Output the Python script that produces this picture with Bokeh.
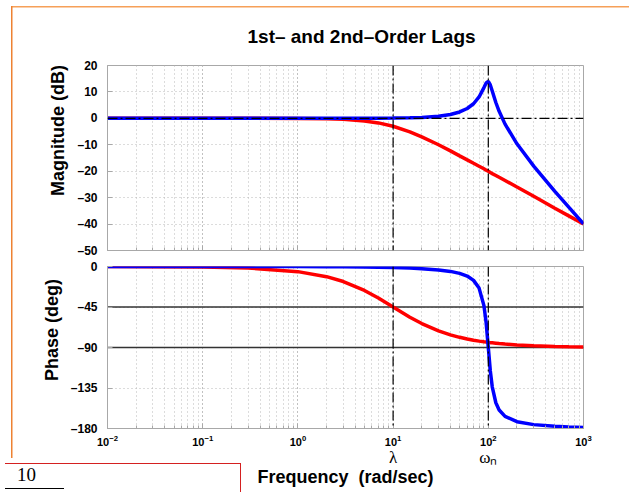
from bokeh.plotting import figure
from bokeh.models import Range1d, FixedTicker, Span, LogAxis, Div
from bokeh.layouts import column
from bokeh.embed import file_html
from bokeh.resources import INLINE

# ---- data (frequency in rad/sec) ----
freq = [0.01, 0.03, 0.1, 0.3, 1, 2, 3, 5, 7, 10, 15, 20, 30, 40, 50, 60, 70, 80,
        90, 95, 100, 105, 110, 120, 130, 150, 200, 300, 500, 700, 1000]
# first-order lag 10/(s+10)
mag_first = [0, 0, 0, 0, -0.04, -0.17, -0.37, -0.97, -1.72, -3.0, -5.1, -7.0, -10.0,
             -12.3, -14.2, -15.7, -17.0, -18.1, -19.1, -19.6, -20.0, -20.5, -20.9,
             -21.6, -22.3, -23.5, -26.0, -29.5, -34.0, -36.9, -40.0]
phase_first = [-0.06, -0.17, -0.57, -1.72, -5.7, -11.3, -16.7, -26.6, -35.0, -45.0,
               -56.3, -63.4, -71.6, -76.0, -78.7, -80.5, -81.9, -82.9, -83.7, -84.0,
               -84.3, -84.6, -84.8, -85.2, -85.6, -86.2, -87.1, -88.1, -88.9, -89.2, -89.4]
# second-order lag (resonant at omega_n)
mag_second = [0, 0, 0, 0, 0, 0, 0, 0.02, 0.04, 0.09, 0.19, 0.35, 0.8, 1.47, 2.42, 3.73,
              5.53, 8.09, 11.64, 13.41, 13.98, 12.63, 10.34, 6.0, 2.65, -2.18, -9.62,
              -18.09, -27.6, -33.6, -39.9]
phase_second = [0, 0, -0.01, -0.03, -0.11, -0.23, -0.34, -0.57, -0.8, -1.16, -1.76,
                -2.39, -3.77, -5.44, -7.6, -10.6, -15.4, -24.0, -43.5, -62.8, -90.0,
                -116.0, -133.7, -151.4, -159.4, -166.5, -172.4, -175.7, -177.6,
                -178.3, -178.8]

corner_freqs = [10, 100]                 # lambda, omega_n
corner_names = ["\u03bb", "\u03c9\u2099"]
mag_ticks = [-50, -40, -30, -20, -10, 0, 10, 20]
mag_tick_labels = ["\u201350", "\u201340", "\u201330", "\u201320", "\u201310", "0", "10", "20"]
phase_ticks = [-180, -135, -90, -45, 0]
phase_tick_labels = ["\u2013180", "\u2013135", "\u201390", "\u201345", "0"]
phase_ref_levels = [-45, -90]
mag_ref_level = 0

SANS = "Liberation Sans"
SERIF = "Liberation Serif"
GRID = "#b8b8b8"
FRAME = "#a8a8a8"
NB = "\u00a0"

xr = Range1d(0.01, 1000)


def style(p, yticks, ylabels):
    p.outline_line_color = FRAME
    p.outline_line_width = 1
    p.xgrid.grid_line_color = GRID
    p.xgrid.grid_line_dash = "1 3"
    p.xgrid.minor_grid_line_color = GRID
    p.xgrid.minor_grid_line_dash = "1 3"
    p.ygrid.grid_line_color = GRID
    p.ygrid.grid_line_dash = "1 3"
    p.yaxis.ticker = FixedTicker(ticks=yticks)
    p.ygrid.ticker = FixedTicker(ticks=yticks)
    p.yaxis.major_label_overrides = dict(zip(yticks, ylabels))
    p.yaxis.major_label_text_font = SANS
    p.yaxis.major_label_text_font_style = "bold"
    p.yaxis.major_label_text_font_size = "12px"
    p.yaxis.major_label_text_color = "black"
    p.yaxis.major_label_standoff = 10
    p.yaxis.axis_label_text_font = SANS
    p.yaxis.axis_label_text_font_style = "bold"
    p.yaxis.axis_label_text_font_size = "18px"
    p.yaxis.axis_label_text_color = "black"
    p.yaxis.axis_label_standoff = 6
    for ax in (p.xaxis, p.yaxis):
        ax.axis_line_color = FRAME
        ax.major_tick_line_color = FRAME
        ax.minor_tick_line_color = FRAME
        ax.major_tick_in = 5
        ax.major_tick_out = 0
        ax.minor_tick_in = 3
        ax.minor_tick_out = 0
    p.yaxis.minor_tick_line_color = None


# ---------------- magnitude ----------------
p1 = figure(width=629, height=258, x_axis_type="log", x_range=xr,
            y_range=Range1d(-50, 20), output_backend="svg", toolbar_location=None,
            min_border_left=107, min_border_right=46, min_border_top=65,
            min_border_bottom=8, border_fill_color=None, background_fill_color="white")
style(p1, mag_ticks, mag_tick_labels)
p1.yaxis.axis_label = NB * 11 + "Magnitude (dB)"
p1.xaxis.major_label_text_font_size = "1px"
p1.xaxis.major_label_text_color = None
p1.xaxis.major_label_standoff = 0
p1.title.text = "1st\u2013 and 2nd\u2013Order Lags"
p1.title.align = "left"
p1.title.offset = 140
p1.title.text_font = SANS
p1.title.text_font_style = "bold"
p1.title.text_font_size = "19px"
p1.title.text_color = "black"
p1.title.standoff = 37

p1.line(freq, mag_first, line_color="#ff0000", line_width=3.5)
p1.line(freq, mag_second, line_color="#0000ff", line_width=3.5)
p1.add_layout(Span(location=mag_ref_level, dimension="width", line_color="black",
                   line_width=1.2, line_dash="10 3 2 3"))
for f in corner_freqs:
    p1.add_layout(Span(location=f, dimension="height", line_color="black",
                       line_width=1.2, line_dash="10 3 2 3"))

# ---------------- phase ----------------
p2 = figure(width=629, height=234, x_axis_type="log", x_range=xr,
            y_range=Range1d(-180, 0), output_backend="svg", toolbar_location=None,
            min_border_left=107, min_border_right=46, min_border_top=8,
            min_border_bottom=64, border_fill_color=None, background_fill_color="white")
style(p2, phase_ticks, phase_tick_labels)
p2.yaxis.axis_label = NB * 7 + "Phase (deg)"
p2.xaxis.major_label_text_font = SANS
p2.xaxis.major_label_text_font_style = "bold"
p2.xaxis.major_label_text_font_size = "11px"
p2.xaxis.major_label_text_color = "black"
p2.xaxis.major_label_standoff = 6

corner_axis = LogAxis(ticker=FixedTicker(ticks=corner_freqs),
                      major_label_overrides=dict(zip(corner_freqs, corner_names)),
                      axis_line_color=None, major_tick_line_color=None,
                      minor_tick_line_color=None, major_label_standoff=-7,
                      major_label_text_font=SERIF, major_label_text_font_size="17px",
                      major_label_text_color="black",
                      axis_label="Frequency" + NB + " (rad/sec)",
                      axis_label_text_font=SANS, axis_label_text_font_style="bold",
                      axis_label_text_font_size="18px", axis_label_text_color="black",
                      axis_label_standoff=-3)
p2.add_layout(corner_axis, "below")

for lv in phase_ref_levels:
    p2.add_layout(Span(location=lv, dimension="width", line_color="#333333",
                       line_width=1.3, level="underlay"))
p2.line(freq, phase_first, line_color="#ff0000", line_width=3.5)
p2.line(freq, phase_second, line_color="#0000ff", line_width=3.5)
for f in corner_freqs:
    p2.add_layout(Span(location=f, dimension="height", line_color="black",
                       line_width=1.2, line_dash="10 3 2 3"))

# ---------------- formula box (bottom-left) ----------------
formula_html = (
    "<div style=\"position:relative;width:235px;height:33px;overflow:hidden;"
    "font-family:'Liberation Serif',serif;font-size:19px;line-height:19px;color:black\">"
    "<span style=\"position:absolute;left:12px;top:1px\">10</span>"
    "<span style=\"position:absolute;left:-20px;top:24px;width:79px;height:1px;"
    "background:black\"></span>"
    "<span style=\"position:absolute;left:-8px;top:26px;white-space:nowrap\">(s + 10)</span>"
    "</div>"
)
formula = Div(text=formula_html, width=236, height=34, styles={
    "position": "absolute", "left": "0px", "top": "458px",
    "border-top": "1px solid #d42020", "border-right": "1px solid #d42020",
    "background": "white", "overflow": "hidden", "box-sizing": "border-box",
    "z-index": "10",
})

layout = column(p1, p2, formula, styles={
    "position": "relative",
    "background": ("linear-gradient(#ee8232, #ee8232) 11px 6px / 1.5px 452px no-repeat, "
                   "linear-gradient(#f6a058, #f6a058) 11px 6px / 100% 1.5px no-repeat"),
})

open("out.html", "w").write(file_html(layout, INLINE))
